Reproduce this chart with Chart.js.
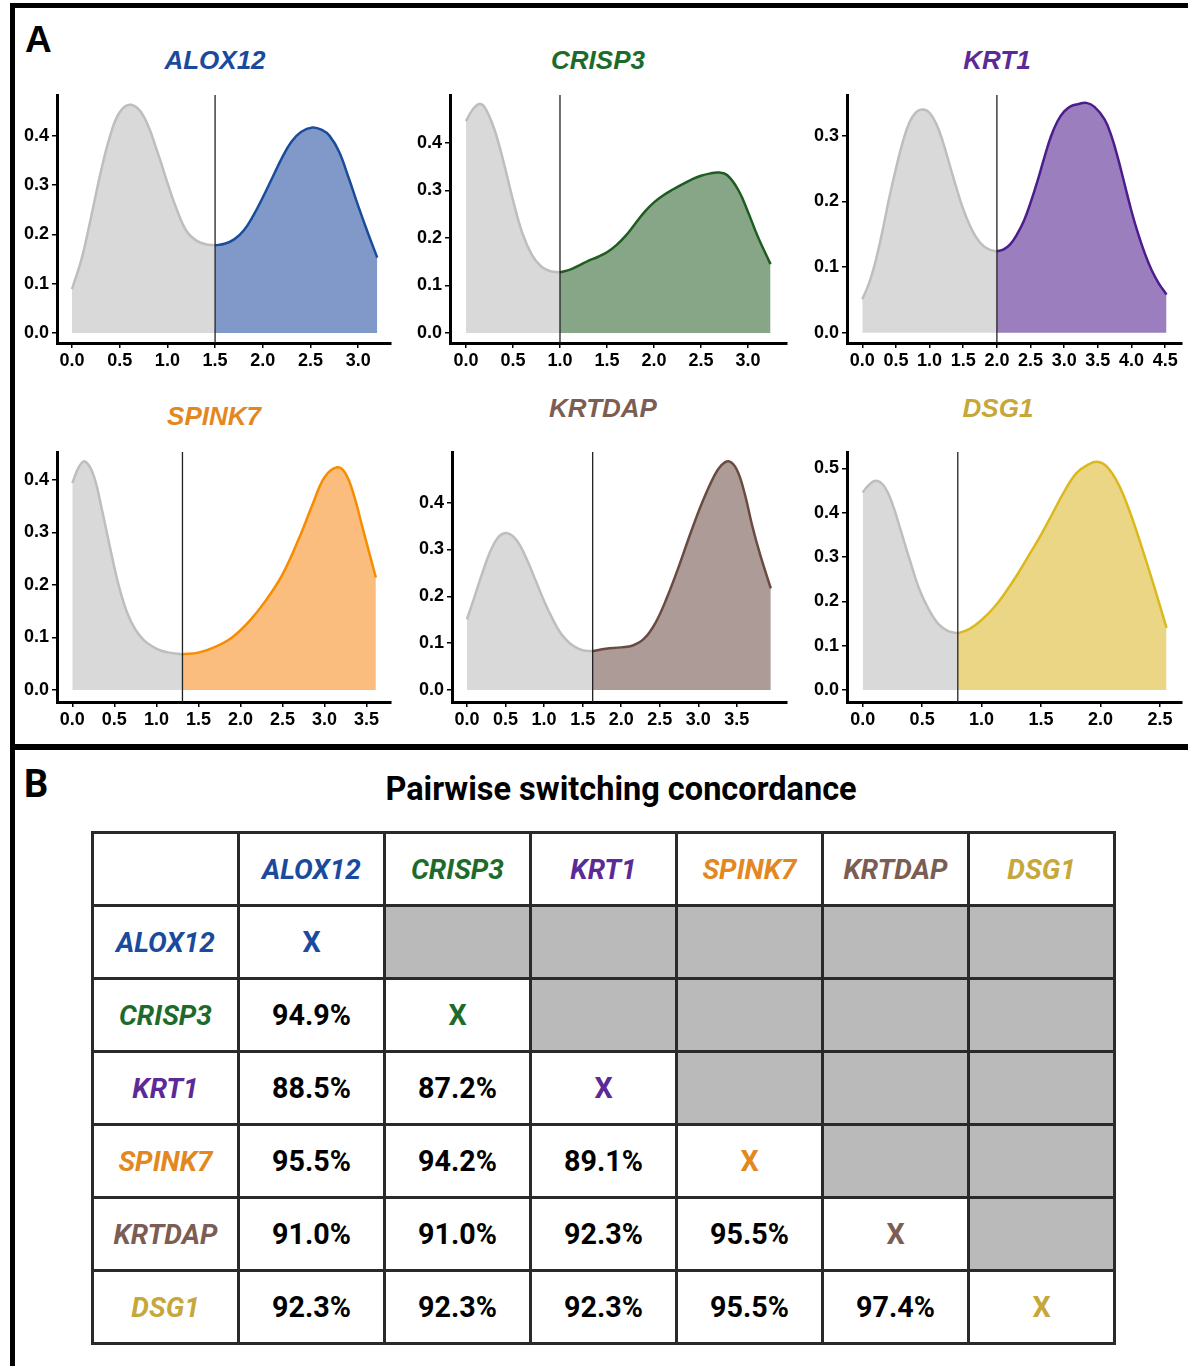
<!DOCTYPE html>
<html>
<head>
<meta charset="utf-8">
<script src="https://cdn.jsdelivr.net/npm/chart.js@4.4.1/dist/chart.umd.min.js"></script>
<style>
  html, body { margin: 0; padding: 0; background: #fff; }
  body { width: 1188px; height: 1366px; position: relative; overflow: hidden; }
  .rule { position: absolute; background: #000; }
  .ptitle { position: absolute; font: italic bold 26px "Liberation Sans", Arial, sans-serif; line-height: 26px; white-space: nowrap; transform: translateX(-50%); }
  .plabel { position: absolute; font-weight: bold; line-height: 1; }
  canvas { position: absolute; }
  #heading { position: absolute; left: 621px; top: 773px; transform: translateX(-50%); font: bold 32.5px Roboto, "Liberation Sans", sans-serif; line-height: 32px; white-space: nowrap; color: #000; }
  #grid { position: absolute; left: 91px; top: 831px; display: grid; grid-template-columns: repeat(7, 143px); grid-template-rows: repeat(7, 70px); gap: 3px; padding: 3px; background: #2a2a2a; }
  #grid div { background: #fff; display: flex; align-items: center; justify-content: center; font: bold 28.7px Roboto, "Liberation Sans", sans-serif; color: #000; }
  #grid div.gene { font-style: italic; font-size: 28px; }
  #grid div.shade { background: #bababa; }
</style>
</head>
<body>
<div class="rule" style="left:10px;top:3px;width:1178px;height:5px;"></div>
<div class="rule" style="left:10px;top:3px;width:5px;height:1363px;"></div>
<div class="rule" style="left:10px;top:744px;width:1178px;height:6px;"></div>
<div class="plabel" style="left:25px;top:21px;font-family:'Liberation Sans',Arial,sans-serif;font-size:37px;">A</div>
<div class="plabel" style="left:24px;top:765px;font-family:Roboto,'Liberation Sans',sans-serif;font-size:38px;">B</div>
<div id="heading">Pairwise switching concordance</div>
<div id="grid"></div>

<script>
// ---------- data ----------
const genes = ['ALOX12', 'CRISP3', 'KRT1', 'SPINK7', 'KRTDAP', 'DSG1'];
const titleColors = ['#1a4a9e', '#1d6b2b', '#5b2a97', '#e3871f', '#7b5d53', '#c6a73b'];
const lineColors  = ['#1b4c9c', '#1e5c20', '#4d1d8e', '#f78c00', '#6b4b41', '#dbb91e'];
const fillColors  = ['#8099c8', '#87a688', '#9b7ebd', '#fbbd7e', '#ac9b97', '#ebd686'];
const thresholds  = [1.5, 1.0, 2.0, 1.31, 1.63, 0.8];

// ALOX12
const alox12LowX  = [0, 0.1, 0.2, 0.3, 0.4, 0.5, 0.62, 0.75, 0.9, 1.0, 1.1, 1.2, 1.3, 1.4, 1.5];
const alox12LowY  = [0.089, 0.15, 0.235, 0.325, 0.40, 0.448, 0.463, 0.44, 0.365, 0.305, 0.25, 0.207, 0.188, 0.18, 0.178];
const alox12HighX = [1.5, 1.6, 1.7, 1.8, 1.9, 2.0, 2.1, 2.2, 2.3, 2.4, 2.52, 2.62, 2.7, 2.8, 2.9, 3.0, 3.1, 3.2];
const alox12HighY = [0.178, 0.181, 0.19, 0.208, 0.238, 0.275, 0.315, 0.355, 0.388, 0.408, 0.417, 0.412, 0.40, 0.368, 0.315, 0.258, 0.204, 0.153];
// CRISP3
const crisp3LowX  = [0, 0.07, 0.14, 0.2, 0.3, 0.4, 0.5, 0.6, 0.7, 0.8, 0.9, 1.0];
const crisp3LowY  = [0.446, 0.47, 0.482, 0.475, 0.43, 0.36, 0.28, 0.21, 0.165, 0.14, 0.13, 0.128];
const crisp3HighX = [1.0, 1.1, 1.2, 1.3, 1.4, 1.5, 1.6, 1.7, 1.8, 1.9, 2.0, 2.1, 2.2, 2.3, 2.4, 2.5, 2.6, 2.68, 2.78, 2.9, 3.0, 3.1, 3.24];
const crisp3HighY = [0.128, 0.133, 0.142, 0.152, 0.16, 0.17, 0.185, 0.205, 0.23, 0.255, 0.275, 0.29, 0.302, 0.313, 0.323, 0.331, 0.336, 0.338, 0.332, 0.30, 0.255, 0.205, 0.145];
// KRT1
const krt1LowX  = [0, 0.1, 0.2, 0.3, 0.4, 0.5, 0.6, 0.7, 0.8, 0.9, 1.0, 1.1, 1.2, 1.3, 1.4, 1.5, 1.6, 1.7, 1.8, 1.9, 2.0];
const krt1LowY  = [0.051, 0.075, 0.11, 0.155, 0.205, 0.25, 0.29, 0.32, 0.336, 0.34, 0.335, 0.318, 0.29, 0.255, 0.22, 0.188, 0.163, 0.144, 0.132, 0.126, 0.124];
const krt1HighX = [2.0, 2.1, 2.2, 2.3, 2.4, 2.5, 2.6, 2.7, 2.8, 2.9, 3.0, 3.1, 3.2, 3.33, 3.45, 3.6, 3.7, 3.8, 3.9, 4.0, 4.1, 4.2, 4.3, 4.4, 4.52];
const krt1HighY = [0.124, 0.127, 0.135, 0.15, 0.17, 0.198, 0.23, 0.265, 0.298, 0.322, 0.337, 0.345, 0.348, 0.35, 0.344, 0.325, 0.30, 0.265, 0.225, 0.185, 0.15, 0.12, 0.095, 0.076, 0.058];
// SPINK7
const spink7LowX  = [0, 0.08, 0.15, 0.25, 0.35, 0.45, 0.55, 0.65, 0.75, 0.85, 0.95, 1.05, 1.15, 1.31];
const spink7LowY  = [0.394, 0.425, 0.435, 0.41, 0.345, 0.27, 0.20, 0.148, 0.115, 0.095, 0.083, 0.075, 0.071, 0.068];
const spink7HighX = [1.31, 1.5, 1.7, 1.9, 2.1, 2.3, 2.5, 2.7, 2.85, 3.0, 3.15, 3.25, 3.35, 3.45, 3.61];
const spink7HighY = [0.068, 0.071, 0.082, 0.10, 0.13, 0.17, 0.22, 0.29, 0.35, 0.405, 0.424, 0.412, 0.37, 0.31, 0.214];
// KRTDAP
const krtdapLowX  = [0, 0.1, 0.2, 0.3, 0.4, 0.5, 0.6, 0.7, 0.8, 0.9, 1.0, 1.1, 1.2, 1.3, 1.4, 1.5, 1.63];
const krtdapLowY  = [0.151, 0.20, 0.25, 0.295, 0.325, 0.335, 0.328, 0.305, 0.27, 0.23, 0.19, 0.155, 0.125, 0.105, 0.092, 0.085, 0.083];
const krtdapHighX = [1.63, 1.8, 2.0, 2.15, 2.3, 2.45, 2.6, 2.75, 2.9, 3.05, 3.2, 3.3, 3.4, 3.5, 3.6, 3.7, 3.8, 3.94];
const krtdapHighY = [0.083, 0.088, 0.091, 0.095, 0.11, 0.145, 0.20, 0.265, 0.335, 0.40, 0.455, 0.48, 0.488, 0.47, 0.42, 0.35, 0.29, 0.217];
// DSG1
const dsg1LowX  = [0, 0.05, 0.11, 0.18, 0.25, 0.32, 0.4, 0.48, 0.56, 0.64, 0.72, 0.8];
const dsg1LowY  = [0.446, 0.462, 0.472, 0.46, 0.42, 0.36, 0.29, 0.225, 0.18, 0.148, 0.133, 0.128];
const dsg1HighX = [0.8, 0.9, 1.0, 1.1, 1.2, 1.3, 1.4, 1.5, 1.6, 1.7, 1.8, 1.9, 1.97, 2.05, 2.15, 2.25, 2.35, 2.45, 2.556];
const dsg1HighY = [0.128, 0.138, 0.158, 0.185, 0.22, 0.26, 0.305, 0.35, 0.40, 0.45, 0.49, 0.509, 0.515, 0.505, 0.465, 0.40, 0.32, 0.235, 0.14];

const lowX  = [alox12LowX, crisp3LowX, krt1LowX, spink7LowX, krtdapLowX, dsg1LowX];
const lowY  = [alox12LowY, crisp3LowY, krt1LowY, spink7LowY, krtdapLowY, dsg1LowY];
const highX = [alox12HighX, crisp3HighX, krt1HighX, spink7HighX, krtdapHighX, dsg1HighX];
const highY = [alox12HighY, crisp3HighY, krt1HighY, spink7HighY, krtdapHighY, dsg1HighY];

// tick labels
const xTickLabels = [
  ['0.0', '0.5', '1.0', '1.5', '2.0', '2.5', '3.0'],
  ['0.0', '0.5', '1.0', '1.5', '2.0', '2.5', '3.0'],
  ['0.0', '0.5', '1.0', '1.5', '2.0', '2.5', '3.0', '3.5', '4.0', '4.5'],
  ['0.0', '0.5', '1.0', '1.5', '2.0', '2.5', '3.0', '3.5'],
  ['0.0', '0.5', '1.0', '1.5', '2.0', '2.5', '3.0', '3.5'],
  ['0.0', '0.5', '1.0', '1.5', '2.0', '2.5']
];
const yTickLabels = [
  ['0.0', '0.1', '0.2', '0.3', '0.4'],
  ['0.0', '0.1', '0.2', '0.3', '0.4'],
  ['0.0', '0.1', '0.2', '0.3'],
  ['0.0', '0.1', '0.2', '0.3', '0.4'],
  ['0.0', '0.1', '0.2', '0.3', '0.4'],
  ['0.0', '0.1', '0.2', '0.3', '0.4', '0.5']
];

// concordance table (lower triangle)
const concordance = [
  [],
  ['94.9%'],
  ['88.5%', '87.2%'],
  ['95.5%', '94.2%', '89.1%'],
  ['91.0%', '91.0%', '92.3%', '95.5%'],
  ['92.3%', '92.3%', '92.3%', '95.5%', '97.4%']
];

// ---------- layout (not data) ----------
const areas = [
  { l: 57,  t: 95,  r: 391,  b: 343, xMin: -0.157, xMax: 3.344, yMin: -0.0203, yMax: 0.483 },
  { l: 450, t: 95,  r: 787,  b: 343, xMin: -0.17,  xMax: 3.415, yMin: -0.021,  yMax: 0.501 },
  { l: 847, t: 95,  r: 1182, b: 343, xMin: -0.227, xMax: 4.75,  yMin: -0.0157, yMax: 0.362 },
  { l: 57,  t: 452, r: 391,  b: 702, xMin: -0.182, xMax: 3.79,  yMin: -0.023,  yMax: 0.453 },
  { l: 452, t: 452, r: 787,  b: 702, xMin: -0.194, xMax: 4.15,  yMin: -0.0256, yMax: 0.508 },
  { l: 847, t: 452, r: 1182, b: 702, xMin: -0.132, xMax: 2.686, yMin: -0.027,  yMax: 0.537 }
];
const titlePos = [
  { x: 215, y: 47 }, { x: 598, y: 47 }, { x: 997, y: 47 },
  { x: 214, y: 403 }, { x: 603, y: 395 }, { x: 998, y: 395 }
];
const YW = 55, XH = 36, PT = 8, PR = 14;

const thresholdLine = {
  id: 'thresholdLine',
  afterDatasetsDraw(chart, args, opts) {
    const { ctx, chartArea, scales } = chart;
    const x = scales.x.getPixelForValue(opts.value);
    ctx.save();
    ctx.strokeStyle = '#222';
    ctx.lineWidth = 1.3;
    ctx.beginPath();
    ctx.moveTo(x, chartArea.top);
    ctx.lineTo(x, chartArea.bottom);
    ctx.stroke();
    ctx.restore();
  }
};

const tickFont = { family: '"Liberation Sans", Arial, sans-serif', size: 18, weight: 'bold' };

genes.forEach((g, i) => {
  const a = areas[i];
  const t = document.createElement('div');
  t.className = 'ptitle';
  t.textContent = g;
  t.style.color = titleColors[i];
  t.style.left = titlePos[i].x + 'px';
  t.style.top = titlePos[i].y + 'px';
  document.body.appendChild(t);

  const cv = document.createElement('canvas');
  const w = (a.r - a.l) + YW + PR, h = (a.b - a.t) + PT + XH;
  cv.width = w; cv.height = h;
  cv.style.width = w + 'px'; cv.style.height = h + 'px';
  cv.style.left = (a.l - YW) + 'px';
  cv.style.top = (a.t - PT) + 'px';
  document.body.appendChild(cv);

  const xl = xTickLabels[i], yl = yTickLabels[i];
  const low = lowX[i].map((x, k) => ({ x: x, y: lowY[i][k] }));
  const high = highX[i].map((x, k) => ({ x: x, y: highY[i][k] }));

  new Chart(cv, {
    type: 'line',
    data: {
      datasets: [
        { data: low, borderColor: '#bebebe', backgroundColor: '#d9d9d9', fill: 'origin', borderWidth: 2.5, pointRadius: 0, tension: 0.4 },
        { data: high, borderColor: lineColors[i], backgroundColor: fillColors[i], fill: 'origin', borderWidth: 2.5, pointRadius: 0, tension: 0.4 }
      ]
    },
    plugins: [thresholdLine],
    options: {
      responsive: false,
      animation: false,
      devicePixelRatio: 1,
      layout: { padding: { top: PT, right: PR, left: 0, bottom: 0 } },
      plugins: { legend: { display: false }, tooltip: { enabled: false }, thresholdLine: { value: thresholds[i] } },
      scales: {
        x: {
          type: 'linear', min: a.xMin, max: a.xMax,
          afterBuildTicks: s => { s.ticks = xl.map(v => ({ value: Number(v) })); },
          afterFit: s => { s.height = XH; s.paddingLeft = 0; s.paddingRight = 0; },
          ticks: { autoSkip: false, maxRotation: 0, minRotation: 0, padding: 2, color: '#000', font: tickFont, callback: (v, k) => xl[k] },
          grid: { display: true, drawOnChartArea: false, drawTicks: true, tickLength: 5, color: '#000', lineWidth: 1.5 },
          border: { display: true, color: '#000', width: 3 }
        },
        y: {
          type: 'linear', min: a.yMin, max: a.yMax,
          afterBuildTicks: s => { s.ticks = yl.map(v => ({ value: Number(v) })); },
          afterFit: s => { s.width = YW; s.paddingTop = 0; s.paddingBottom = 0; },
          ticks: { autoSkip: false, padding: 3, color: '#000', font: tickFont, callback: (v, k) => yl[k] },
          grid: { display: true, drawOnChartArea: false, drawTicks: true, tickLength: 5, color: '#000', lineWidth: 1.5 },
          border: { display: true, color: '#000', width: 3 }
        }
      }
    }
  });
});

// ---------- table ----------
const grid = document.getElementById('grid');
function cell(text, cls, color) {
  const d = document.createElement('div');
  if (cls) d.className = cls;
  if (text) d.textContent = text;
  if (color) d.style.color = color;
  grid.appendChild(d);
}
cell('', '', null);
genes.forEach((g, j) => cell(g, 'gene', titleColors[j]));
genes.forEach((g, i) => {
  cell(g, 'gene', titleColors[i]);
  genes.forEach((h, j) => {
    if (j < i) cell(concordance[i][j], '', '#000');
    else if (j === i) cell('X', '', titleColors[i]);
    else cell('', 'shade', null);
  });
});
</script>
</body>
</html>
